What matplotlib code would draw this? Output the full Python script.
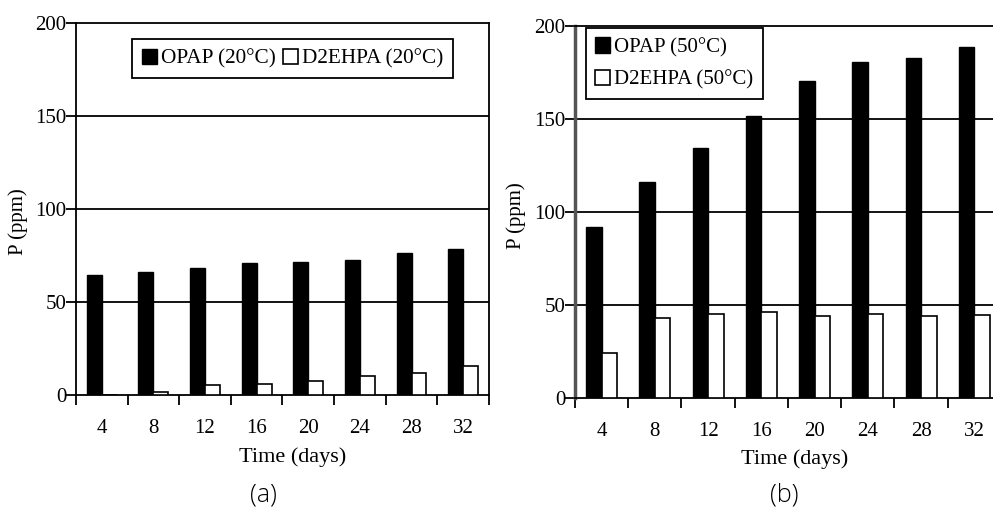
import matplotlib
matplotlib.use('Agg')
import matplotlib.pyplot as plt
import numpy as np

days = [4, 8, 12, 16, 20, 24, 28, 32]

# panel (a), 20 C
opap_20 = [64.5, 66, 68.5, 70.8, 71.5, 72.4, 76.2, 78.5]
d2ehpa_20 = [0, 1.8, 5.4, 5.7, 7.7, 10, 12, 15.8]

# panel (b), 50 C
opap_50 = [92, 116.2, 134.1, 151.7, 170.3, 180.3, 182.8, 188.6]
d2ehpa_50 = [24, 43.1, 45.1, 46.2, 44, 45, 44, 44.6]

yticks = [0, 50, 100, 150, 200]

plt.rcParams['font.family'] = ['Liberation Serif', 'DejaVu Serif']
plt.rcParams['font.size'] = 15

fig = plt.figure(figsize=(9.93, 5.14), dpi=100)
ax_a = fig.add_axes([0.0765, 0.2315, 0.4159, 0.7237])
ax_b = fig.add_axes([0.579, 0.2257, 0.429, 0.7243])


def draw_panel(ax, opap, d2ehpa, lab_opap, lab_d2):
    x = np.arange(len(days))
    w = 0.29
    ax.bar(x + 0.5 - w / 2, opap, w, color='black', edgecolor='black',
           linewidth=1, label=lab_opap, zorder=3)
    ax.bar(x + 0.5 + w / 2, d2ehpa, w, color='white', edgecolor='black',
           linewidth=1.2, label=lab_d2, zorder=3)
    ax.set_xlim(0, len(days))
    ax.set_ylim(0, 200)
    ax.set_yticks(yticks)
    for v in yticks[1:4]:
        ax.axhline(v, color='black', linewidth=1.3, zorder=1)
    # ticks between groups, labels centred on groups
    ax.set_xticks(np.arange(len(days) + 1))
    ax.set_xticklabels([])
    ax.set_xticks(x + 0.5, minor=True)
    ax.set_xticklabels([str(d) for d in days], minor=True)
    ax.tick_params(axis='x', which='major', direction='out', length=7, width=1.3)
    ax.tick_params(axis='x', which='minor', length=0, pad=17)
    ax.tick_params(axis='y', direction='out', length=7, width=1.3, pad=0)
    for s in ax.spines.values():
        s.set_linewidth(1.3)
        s.set_color('black')


draw_panel(ax_a, opap_20, d2ehpa_20, 'OPAP (20°C)', 'D2EHPA (20°C)')
draw_panel(ax_b, opap_50, d2ehpa_50, 'OPAP (50°C)', 'D2EHPA (50°C)')
ax_b.spines['left'].set_color('#555555')
ax_b.spines['left'].set_linewidth(2.5)

leg_a = ax_a.legend(loc='upper left', bbox_to_anchor=(0.136, 0.957), borderaxespad=0,
                    ncol=2, handlelength=0.7, handleheight=0.75, handletextpad=0.2,
                    columnspacing=0.35, borderpad=0.45, fancybox=False, framealpha=1,
                    edgecolor='black', fontsize=15.3)
leg_a.get_frame().set_linewidth(1.3)

leg_b = ax_b.legend(loc='upper left', bbox_to_anchor=(0.026, 0.994), borderaxespad=0,
                    ncol=1, handlelength=0.7, handleheight=0.75, handletextpad=0.2,
                    labelspacing=0.6, borderpad=0.45, fancybox=False, framealpha=1,
                    edgecolor='black', fontsize=15)
leg_b.get_frame().set_linewidth(1.3)

ax_a.set_ylabel('P (ppm)', va='center')
ax_a.yaxis.set_label_coords(-0.141, 0.465)
ax_b.set_ylabel('P (ppm)', va='center')
ax_b.yaxis.set_label_coords(-0.138, 0.49)

ax_a.set_xlabel('Time (days)', va='center', fontsize=16)
ax_a.xaxis.set_label_coords(0.525, -0.167)
ax_b.set_xlabel('Time (days)', va='center', fontsize=16)
ax_b.xaxis.set_label_coords(0.516, -0.164)

fig.text(0.265, 0.037, '(a)', family='Open Sans', fontsize=18, fontweight='light',
         ha='center', va='center')
fig.text(0.790, 0.037, '(b)', family='Open Sans', fontsize=18, fontweight='light',
         ha='center', va='center')

fig.savefig('out.png', dpi=100)
